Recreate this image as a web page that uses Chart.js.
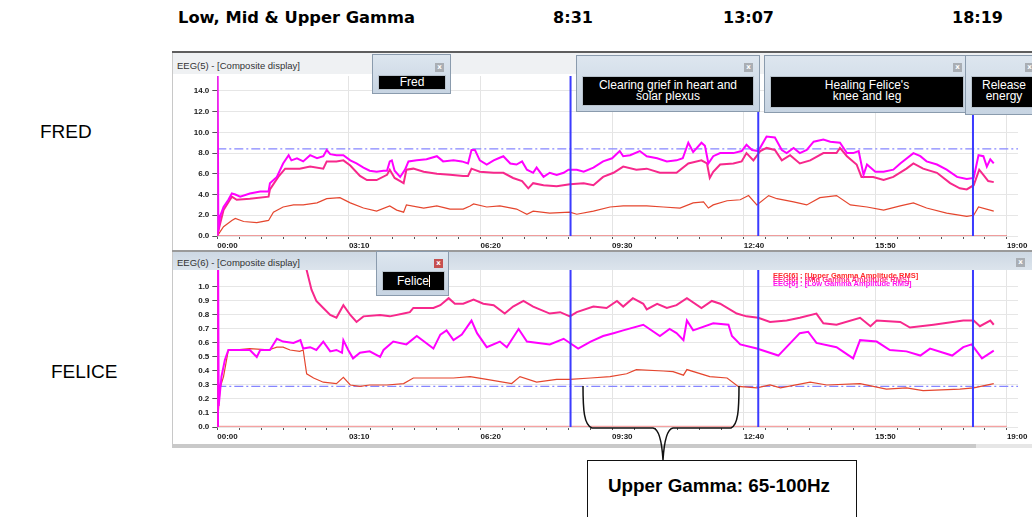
<!DOCTYPE html>
<html><head><meta charset="utf-8">
<script src="https://cdn.jsdelivr.net/npm/chart.js@4.4.1/dist/chart.umd.min.js"></script>
<style>
body{margin:0;background:#fff;}
#page{position:relative;width:1032px;height:517px;overflow:hidden;font-family:'Liberation Sans',Arial,sans-serif;background:#fff;}
.a{position:absolute;white-space:nowrap;}
.win{position:absolute;background:linear-gradient(#dde6ef,#c7d4e2);border:1px solid #8a9bad;box-sizing:border-box;}
.blk{position:absolute;background:#000;border:1px solid #b8c2cc;box-sizing:border-box;color:#fff;font-size:12px;line-height:11px;text-align:center;}
.xb{position:absolute;width:9px;height:9px;background:#a9aeb4;color:#fff;font:bold 7px 'DejaVu Sans',sans-serif;text-align:center;line-height:9px;}
canvas{position:absolute;}
</style></head>
<body><div id="page">
<!-- header -->
<div class="a" id="hdr" style="left:178px;top:10px;font:bold 16px 'DejaVu Sans',sans-serif;line-height:16px;color:#000">Low, Mid &amp; Upper Gamma</div>
<div class="a sess" data-i="0" style="top:10px;font:bold 16px 'DejaVu Sans',sans-serif;line-height:16px;color:#000"></div>
<div class="a sess" data-i="1" style="top:10px;font:bold 16px 'DejaVu Sans',sans-serif;line-height:16px;color:#000"></div>
<div class="a sess" data-i="2" style="top:10px;font:bold 16px 'DejaVu Sans',sans-serif;line-height:16px;color:#000"></div>
<div class="a" style="left:40px;top:122px;font:19px 'Liberation Sans',sans-serif;line-height:20px;color:#000">FRED</div>
<div class="a" style="left:51px;top:362px;font:19px 'Liberation Sans',sans-serif;line-height:20px;color:#000">FELICE</div>

<!-- top window -->
<div class="a" style="left:172px;top:51px;width:860px;height:2px;background:#5e5e5e"></div>
<div class="a" style="left:172px;top:53px;width:860px;height:21px;background:#eff1f3"></div>
<div class="a" style="left:177px;top:61px;font:9.5px 'Liberation Sans',sans-serif;line-height:10px;color:#333">EEG(5) - [Composite display]</div>
<div class="a" style="left:172px;top:53px;width:1px;height:198px;background:#c8c8c8"></div>
<canvas id="c1" width="858" height="176" style="left:172px;top:74px"></canvas>

<!-- bottom window -->
<div class="a" style="left:172px;top:250px;width:860px;height:2px;background:#9a9a9a"></div>
<div class="a" style="left:172px;top:252px;width:860px;height:18px;background:linear-gradient(#cdd8e3,#dce4ec)"></div>
<div class="a" style="left:177px;top:258px;font:9.5px 'Liberation Sans',sans-serif;line-height:10px;color:#333">EEG(6) - [Composite display]</div>
<div class="xb" style="left:1016px;top:258px">x</div>
<div class="a" style="left:172px;top:252px;width:1px;height:193px;background:#c8c8c8"></div>
<canvas id="c2" width="858" height="171" style="left:172px;top:270px"></canvas>
<div class="a" style="left:172px;top:444px;width:804px;height:4px;background:#c9c9c9"></div>
<div class="a" style="left:976px;top:444px;width:56px;height:4px;background:#e6e6e6"></div>

<!-- legend text -->
<div id="leg"></div>

<!-- note windows -->
<div class="win" style="left:372px;top:54px;width:79px;height:40px;">
  <div class="xb" style="left:62px;top:8px">x</div>
  <div class="blk" style="left:5px;top:20px;width:68px;height:15px;line-height:13px">Fred</div>
</div>
<div class="win" style="left:576px;top:55px;width:184px;height:57px;">
  <div class="xb" style="left:167px;top:7px">x</div>
  <div class="blk" style="left:5px;top:20px;width:172px;height:30px;padding-top:3px">Clearing grief in heart and<br>solar plexus</div>
</div>
<div class="win" style="left:764px;top:55px;width:202px;height:58px;">
  <div class="xb" style="left:188px;top:7px">x</div>
  <div class="blk" style="left:5px;top:20px;width:194px;height:32px;padding-top:3px">Healing Felice's<br>knee and leg</div>
</div>
<div class="win" style="left:965px;top:55px;width:80px;height:60px;">
  <div class="xb" style="left:59px;top:7px">x</div>
  <div class="blk" style="left:5px;top:20px;width:66px;height:32px;padding-top:3px">Release<br>energy</div>
</div>
<div class="win" style="left:376px;top:251px;width:73px;height:45px;">
  <div class="xb" style="left:57px;top:7px;background:#c65050">x</div>
  <div class="blk" style="left:5px;top:19px;width:63px;height:20px;line-height:18px">Felice<span style="display:inline-block;width:1px;height:12px;background:#fff;vertical-align:-2px"></span></div>
</div>

<!-- callout -->
<svg class="a" style="left:0;top:0" width="1032" height="517">
  <path d="M583,386 C583,410 584,425 592,428 L653,428 C659,429 662,444 663,460 C664,444 667,429 673,428 L731,428 C738,425 739,410 739,386" fill="none" stroke="#111" stroke-width="1.5"/>
</svg>
<div class="a" style="left:587px;top:460px;width:270px;height:70px;border:1.5px solid #111;box-sizing:border-box;background:#fff"></div>
<div class="a" id="note" style="left:608px;top:476px;font:bold 19px 'Liberation Sans',sans-serif;line-height:19px;color:#000">Upper Gamma: 65-100Hz</div>
</div>

<script>
// ---------- data ----------
const timeLabels = ['00:00','03:10','06:20','09:30','12:40','15:50','19:00'];
const sessionMarks = [510, 781, 1091];          // seconds
const sessionLabels = ['8:31','13:07','18:19'];
const seriesNames = ['EEG[6] : [Upper Gamma Amplitude RMS]','EEG[6] : [Mid Gamma Amplitude RMS]','EEG[6] : [Low Gamma Amplitude RMS]'];
const fredThreshold = 8.4;
const feliceThreshold = 0.29;

// [seconds, value]
const fredLow = [[0,0.1],[0.5,16],[1.5,0.5],[4,1.9],[9,2.8],[16,3.5],[21,4.1],[26,4.0],[33,3.8],[47,4.1],[62,4.3],[74,4.3],[76,5.1],[86,5.7],[95,7.0],[103,7.8],[107,7.3],[115,7.5],[124,7.2],[134,7.8],[144,7.5],[153,7.7],[158,8.3],[163,7.9],[172,7.8],[182,7.8],[192,7.3],[201,7.0],[211,6.6],[220,6.3],[230,6.2],[240,6.3],[245,6.3],[249,7.2],[252,7.3],[256,6.3],[264,5.7],[271,6.4],[276,7.2],[288,7.3],[302,7.4],[317,7.7],[326,7.2],[341,7.3],[353,7.2],[362,7.0],[367,8.3],[372,8.3],[379,7.3],[389,6.9],[399,7.3],[406,7.5],[413,7.7],[423,7.0],[432,6.9],[440,7.2],[447,6.4],[456,6.1],[461,6.6],[471,5.7],[480,6.1],[490,5.9],[500,6.1],[507,6.4],[519,6.4],[529,6.2],[543,6.6],[557,7.2],[570,7.5],[581,8.2],[586,7.7],[596,7.8],[610,8.2],[620,7.7],[635,7.5],[649,7.2],[663,7.3],[672,7.5],[680,9.0],[687,8.1],[699,9.0],[704,8.7],[709,7.0],[716,7.7],[726,8.0],[745,8.0],[757,8.2],[764,8.8],[772,8.3],[781,8.2],[793,9.6],[805,9.5],[815,8.3],[822,8.0],[832,8.5],[841,8.0],[851,8.3],[861,9.1],[875,9.3],[885,9.1],[899,9.0],[909,8.0],[918,8.0],[926,8.2],[933,5.9],[938,6.9],[950,6.2],[962,6.2],[976,6.4],[986,7.0],[1005,8.0],[1015,7.7],[1024,7.2],[1039,6.9],[1053,6.4],[1068,5.7],[1082,5.5],[1092,5.6],[1099,7.8],[1106,7.7],[1111,6.7],[1116,7.4],[1121,7.0]];
const fredMid = [[0,0.1],[9,2.5],[21,3.8],[28,3.5],[47,3.6],[74,3.8],[76,4.5],[88,5.7],[98,6.5],[105,6.5],[119,6.5],[134,6.7],[153,6.5],[158,7.2],[172,7.2],[182,7.3],[192,6.8],[206,5.8],[216,5.4],[230,5.4],[245,5.9],[249,6.4],[256,5.6],[264,5.3],[269,5.1],[273,6.4],[283,6.5],[298,6.2],[317,6.0],[336,5.9],[355,5.8],[362,5.8],[367,6.5],[379,6.2],[399,6.1],[413,6.1],[427,5.6],[440,5.3],[449,4.6],[456,5.1],[471,4.9],[490,4.8],[509,5.0],[529,5.1],[543,4.9],[557,5.7],[572,6.1],[586,6.7],[605,6.4],[620,6.5],[639,6.1],[663,6.1],[680,7.0],[699,7.3],[707,7.0],[711,5.6],[716,6.2],[726,6.9],[745,7.0],[757,7.2],[764,8.0],[774,7.3],[784,8.2],[793,8.5],[805,8.3],[815,7.3],[827,7.8],[841,7.0],[856,7.3],[875,8.0],[894,8.0],[899,8.5],[909,7.7],[923,6.9],[930,5.7],[947,5.7],[962,5.4],[976,5.7],[995,6.5],[1005,7.0],[1019,6.5],[1039,6.1],[1058,5.1],[1072,4.6],[1082,4.5],[1092,4.9],[1100,6.4],[1106,5.9],[1113,5.3],[1121,5.2]];
const fredUpper = [[0,0],[9,0.9],[21,1.5],[26,1.7],[38,1.4],[57,1.3],[74,1.5],[81,2.3],[95,2.8],[110,3.0],[124,3.0],[144,3.2],[158,3.6],[177,3.7],[192,3.2],[211,2.7],[230,2.4],[249,2.9],[259,2.5],[269,2.3],[273,3.0],[298,2.7],[317,2.9],[336,2.6],[355,2.6],[365,2.9],[370,3.1],[389,2.8],[408,2.9],[432,2.6],[447,2.1],[456,2.4],[480,2.2],[509,2.3],[519,2.1],[543,2.4],[567,2.8],[586,2.9],[620,2.9],[644,2.8],[668,2.7],[687,3.2],[702,3.3],[709,2.7],[716,3.0],[736,3.4],[755,3.5],[767,3.9],[779,3.0],[796,3.9],[808,3.6],[832,3.3],[851,3.0],[870,3.7],[894,3.9],[914,3.0],[938,2.8],[962,2.5],[986,2.9],[1005,3.2],[1024,2.7],[1053,2.2],[1082,1.9],[1092,2.0],[1099,2.8],[1121,2.4]];

const feliceLow = [[0,0],[1,1.4],[2,0.15],[6,0.36],[11,0.48],[16,0.55],[28,0.55],[47,0.55],[57,0.50],[62,0.55],[76,0.55],[86,0.63],[95,0.61],[110,0.60],[120,0.62],[124,0.56],[134,0.57],[143,0.55],[153,0.61],[163,0.54],[172,0.55],[180,0.53],[182,0.62],[189,0.55],[196,0.49],[206,0.53],[220,0.54],[235,0.50],[240,0.55],[254,0.61],[273,0.59],[288,0.65],[312,0.56],[322,0.66],[331,0.69],[341,0.62],[353,0.66],[367,0.76],[375,0.67],[389,0.57],[408,0.61],[418,0.57],[435,0.70],[447,0.61],[480,0.59],[500,0.63],[521,0.56],[539,0.61],[557,0.65],[572,0.67],[586,0.69],[615,0.73],[639,0.65],[653,0.70],[663,0.67],[673,0.62],[678,0.76],[687,0.69],[716,0.74],[738,0.73],[743,0.65],[755,0.59],[779,0.56],[810,0.51],[841,0.67],[853,0.68],[865,0.60],[894,0.57],[918,0.49],[928,0.62],[952,0.61],[971,0.55],[995,0.54],[1015,0.51],[1029,0.56],[1061,0.51],[1077,0.57],[1089,0.59],[1104,0.49],[1121,0.545]];
const feliceMid = [[0,0],[1.5,1.6],[120,1.5],[129,1.12],[136,0.98],[143,0.90],[153,0.85],[163,0.80],[172,0.78],[182,0.87],[192,0.80],[201,0.75],[211,0.79],[235,0.80],[249,0.79],[269,0.81],[278,0.82],[283,0.85],[298,0.85],[312,0.85],[322,0.87],[334,0.92],[343,0.88],[355,0.88],[370,0.91],[384,0.88],[399,0.87],[415,0.81],[427,0.86],[442,0.90],[456,0.86],[480,0.81],[495,0.82],[509,0.79],[519,0.82],[543,0.86],[562,0.85],[577,0.90],[586,0.86],[600,0.92],[615,0.88],[620,0.84],[635,0.88],[649,0.85],[663,0.87],[678,0.92],[699,0.85],[714,0.90],[726,0.88],[750,0.81],[764,0.79],[781,0.78],[798,0.75],[822,0.76],[841,0.78],[865,0.81],[875,0.74],[894,0.73],[928,0.78],[943,0.72],[952,0.76],[986,0.75],[1000,0.71],[1034,0.73],[1077,0.76],[1092,0.76],[1101,0.72],[1116,0.76],[1121,0.73]];
const feliceUpper = [[0,0],[4,0.28],[9,0.36],[16,0.55],[28,0.55],[47,0.56],[74,0.55],[86,0.57],[95,0.57],[105,0.55],[119,0.54],[124,0.55],[129,0.38],[139,0.35],[153,0.32],[172,0.31],[182,0.355],[192,0.30],[206,0.29],[220,0.30],[245,0.30],[269,0.31],[283,0.35],[307,0.35],[341,0.35],[365,0.36],[389,0.34],[425,0.31],[437,0.36],[461,0.32],[490,0.34],[509,0.34],[539,0.35],[567,0.36],[591,0.38],[605,0.41],[644,0.40],[658,0.395],[673,0.37],[678,0.41],[711,0.36],[736,0.35],[752,0.29],[779,0.28],[798,0.30],[813,0.28],[856,0.32],[880,0.30],[928,0.31],[966,0.27],[995,0.28],[1019,0.26],[1072,0.27],[1092,0.28],[1121,0.31]];

// ---------- helpers ----------
const MAJOR = 190, MINOR = MAJOR/6, T_END = 1140, T_MAX = 1156;
const xy = a => a.map(([x,y]) => ({x, y}));
const COL = {low:'#ff00ff', mid:'#f7288c', up:'#e5462e', mark:'#3b3bff', thr:'#8585ff'};

function makeChart(id, o){
  const ds = [];
  sessionMarks.forEach(t => ds.push({data:[{x:t,y:0},{x:t,y:o.yMax}], borderColor:COL.mark, borderWidth:2}));
  ds.push({data:xy(o.low), borderColor:COL.low, borderWidth:2});
  ds.push({data:xy(o.mid), borderColor:COL.mid, borderWidth:2});
  ds.push({data:xy(o.up), borderColor:COL.up, borderWidth:1.2});
  ds.push({data:[{x:0,y:o.thr},{x:T_MAX,y:o.thr}], borderColor:COL.thr, borderWidth:1.3, borderDash:[9,3,2,3]});
  ds.push({data:[{x:0,y:0},{x:T_END,y:0}], borderColor:o.baseColor, borderWidth:o.baseWidth});
  return new Chart(document.getElementById(id), {
    type:'line',
    data:{datasets:ds.map(d => Object.assign({pointRadius:0, tension:0, fill:false}, d))},
    options:{
      responsive:false, animation:false, devicePixelRatio:1, events:[],
      layout:{padding:{left:0, right:12, top:o.padTop, bottom:0}},
      plugins:{legend:{display:false}, tooltip:{enabled:false}},
      scales:{
        x:{type:'linear', min:0, max:T_MAX,
          afterBuildTicks(s){ const t=[]; for(let i=0;i<=36;i++) t.push({value:i*MINOR}); s.ticks=t; },
          ticks:{autoSkip:false, maxRotation:0, minRotation:0, align:'start', padding:2, color:'#1a1a1a',
            font:{family:'Liberation Sans', size:8, weight:'bold'},
            callback:(v,i)=> i%6===0 ? timeLabels[i/6] : ''},
          grid:{color:c => (c.index%6===0 && c.index>0) ? '#e4e4e4' : 'rgba(0,0,0,0)', tickColor:'#555', tickLength:3, drawTicks:true},
          border:{display:false},
          afterFit(s){ s.height=14; s.paddingLeft=0; s.paddingRight=0; }
        },
        y:{type:'linear', min:0, max:o.yMax,
          afterBuildTicks(s){ s.ticks = o.yTicks.map(v=>({value:v})); },
          ticks:{padding:3, color:'#1a1a1a', font:{family:'Liberation Sans', size:8, weight:'bold'},
            callback:v => v.toFixed(1)},
          grid:{color:'#e6e6e6', tickColor:'#555', tickLength:5},
          border:{display:true, color:'#9a9a9a', width:1},
          afterFit(s){ s.width=45.3; s.paddingTop=0; s.paddingBottom=0; }
        }
      }
    }
  });
}

makeChart('c1', {low:fredLow, mid:fredMid, up:fredUpper, thr:fredThreshold, yMax:15.44, padTop:2,
  yTicks:[0,2,4,6,8,10,12,14], baseColor:'#e03a3a', baseWidth:1.2});
makeChart('c2', {low:feliceLow, mid:feliceMid, up:feliceUpper, thr:feliceThreshold, yMax:1.121, padTop:0,
  yTicks:[0,0.1,0.2,0.3,0.4,0.5,0.6,0.7,0.8,0.9,1.0], baseColor:'#f4a2a2', baseWidth:2.6});

// legend text
const leg = document.getElementById('leg');
const legCols = ['#ff2a2a','#ff2f86','#ff10f0'];
seriesNames.forEach((n,i) => {
  const d = document.createElement('div');
  d.className='a'; d.textContent=n;
  d.style.cssText += `left:773px;top:${272+i*4}px;font:bold 7.5px 'Liberation Sans',sans-serif;line-height:8px;color:${legCols[i]}`;
  leg.appendChild(d);
});

// session header labels
const sessCx = [573, 748.5, 977.5];
document.querySelectorAll('.sess').forEach(el => {
  const i = +el.dataset.i; el.textContent = sessionLabels[i];
  const w = el.getBoundingClientRect().width; el.style.left = (sessCx[i]-w/2)+'px';
});
function fit(el, w){ const r = el.getBoundingClientRect().width; el.style.transformOrigin='0 0'; el.style.transform=`scaleX(${w/r})`; }
fit(document.getElementById('hdr'), 237);
fit(document.getElementById('note'), 222);
</script>
</body></html>
